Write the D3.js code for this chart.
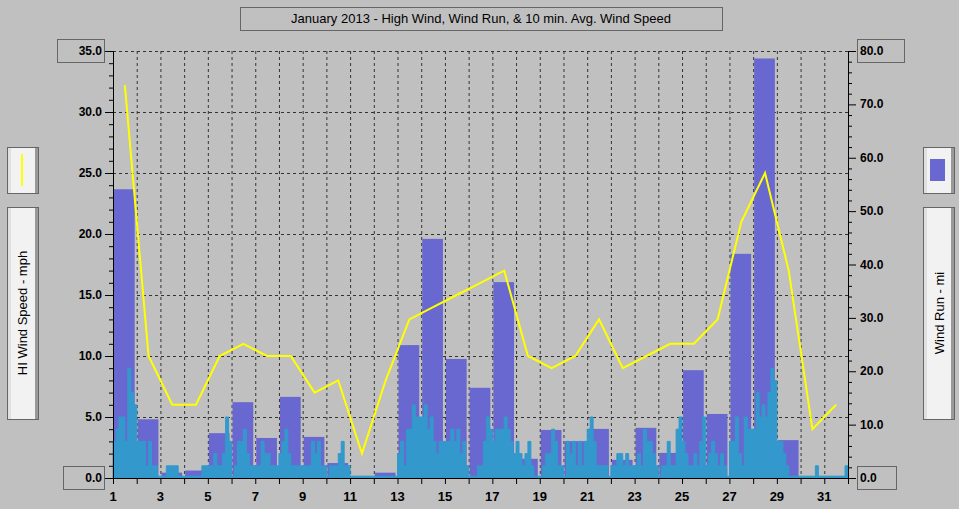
<!DOCTYPE html>
<html><head><meta charset="utf-8">
<script src="https://cdn.jsdelivr.net/npm/d3@7/dist/d3.min.js"></script>
<style>body{margin:0;background:#c0c0c0;}svg{display:block;font-family:"Liberation Sans",Arial,sans-serif;}</style>
</head><body><svg id="c" width="959" height="509"></svg>
<script>
const days = d3.range(1, 32);
const windRun = [54.1,11.0,1.0,1.4,8.4,14.2,7.5,15.2,7.7,2.8,0,1.0,24.9,44.8,22.3,16.9,36.7,3.6,9.0,6.9,9.2,3.4,9.4,4.7,20.2,12.0,42.0,78.6,7.1,0,0.3];
const hiWind = [32.2,10,6,6,10,11,10,10,7,8,2,8,13,14,15,16,17,10,9,10,13,9,10,11,11,13,21,25,17,4,6];
const avgWind = [
 [3,4,5,5,3,9,7,6],[3,3,3,1,3,1,1,0],[0,0,1,1,1,1,0,0],[0,0,0,0,0,0,1,1],
 [1,1,2,1,1,2,5,3],[0,1,3,3,4,2,1,1],[1,1,3,2,2,1,1,1],[2,3,4,2,1,1,1,1],
 [1,1,1,3,2,3,1,1],[0,1,1,1,2,3,1,1],[0,0,0,0,0,0,0,0],[0,0,0,0,0,0,0,0],
 [2,3,1,4,4,6,5,5],[5,6,4,5,3,2,3,3],[3,3,4,3,4,2,3,1],[0,0,0,1,1,3,5,4],
 [3,4,4,4,5,4,3,2],[3,2,1,2,3,1,0,0],[0,1,2,2,4,3,1,1],[0,3,2,3,1,3,1,3],
 [4,5,3,1,1,1,1,0],[1,1,2,2,1,2,1,1],[1,2,1,4,3,3,2,1],[0,1,1,3,1,1,4,5],
 [3,2,1,1,2,1,3,5],[1,2,3,2,1,2,1,0],[3,3,5,2,1,5,4,4],[4,7,5,6,5,7,9,8],
 [3,3,2,1,0,0,0,0],[0,0,0,0,0,1,0,0],[0,0,0,0,0,0,0,1]];
const leftTicks = [0,5,10,15,20,25,30,35];
const rightTicks = [0,10,20,30,40,50,60,70,80];
const title = "January 2013 - High Wind, Wind Run, & 10 min. Avg. Wind Speed";

const svg = d3.select("#c");
const L=113, R=848, T=51, B=478;
const x = d3.scaleLinear().domain([1,32]).range([L,R]);
const yL = d3.scaleLinear().domain([0,35]).range([B,T]);
const yR = d3.scaleLinear().domain([0,80]).range([B,T]);

function box(x0,y0,w,h,fill){svg.append("rect").attr("x",x0+.5).attr("y",y0+.5).attr("width",w).attr("height",h).attr("fill",fill||"none").attr("stroke","#666");}
// title
box(240,7,482,23);
svg.append("text").attr("x",481).attr("y",23).attr("text-anchor","middle").attr("font-size",13).text(title);

// grid
const g = svg.append("g").attr("stroke","#333").attr("stroke-dasharray","3,3");
d3.range(2,32).forEach(d=>g.append("line").attr("x1",x(d)+.5).attr("x2",x(d)+.5).attr("y1",T).attr("y2",B));
leftTicks.slice(1).forEach(v=>g.append("line").attr("x1",L).attr("x2",R).attr("y1",Math.round(yL(v))+.5).attr("y2",Math.round(yL(v))+.5));

// bars
svg.append("g").selectAll("rect").data(days).join("rect")
 .attr("x",d=>x(d)+1).attr("width",x(2)-x(1)-3)
 .attr("y",(d,i)=>yR(windRun[i])).attr("height",(d,i)=>B-yR(windRun[i]))
 .attr("fill","#6868d0");

// avg wind step area
const pts=[];
avgWind.forEach((arr,i)=>arr.forEach((v,j)=>pts.push({t:days[i]+j/8,v:v})));
pts.push({t:32,v:0});
svg.append("path").datum(pts).attr("fill","#3399cc").attr("stroke","#3399cc").attr("stroke-width",1)
 .attr("d",d3.area().curve(d3.curveStepAfter).x(p=>x(p.t)).y0(B).y1(p=>yL(Math.max(p.v,0.15))));

// hi wind line
svg.append("path").datum(hiWind).attr("fill","none").attr("stroke","#ffff00").attr("stroke-width",2)
 .attr("d",d3.line().x((v,i)=>x(days[i]+0.5)).y(v=>yL(v)));

// axes
const axL = svg.append("g").attr("transform",`translate(${L},0)`).call(d3.axisLeft(yL).tickValues(d3.range(0,36,1)).tickSize(4).tickFormat(""));
axL.selectAll("line").filter(d=>d%5===0).attr("x2",-8);
const axR = svg.append("g").attr("transform",`translate(${R},0)`).call(d3.axisRight(yR).tickValues(d3.range(0,81,2)).tickSize(4).tickFormat(""));
axR.selectAll("line").filter(d=>d%10===0).attr("x2",8);
const axB = svg.append("g").attr("transform",`translate(0,${B})`).call(d3.axisBottom(x).tickValues(d3.range(1,33)).tickSize(6).tickFormat(""));
[axL,axR,axB].forEach(a=>{a.selectAll("path,line").attr("stroke","#000");});

const lab = {"font-size":12,"font-weight":"bold"};
leftTicks.forEach(v=>{
  if(v===35||v===0) box(v===35?57:63,Math.round(yL(v))-12,v===35?47:41,23);
  svg.append("text").attr("x",102).attr("y",yL(v)+4).attr("text-anchor","end").attr("font-size",12).attr("font-weight","bold").text(v.toFixed(1));
});
rightTicks.forEach(v=>{
  if(v===80||v===0) box(857,Math.round(yR(v))-12,v===80?47:39,23);
  svg.append("text").attr("x",860).attr("y",yR(v)+4).attr("font-size",12).attr("font-weight","bold").text(v.toFixed(1));
});
d3.range(1,32,2).forEach(d=>svg.append("text").attr("x",x(d)).attr("y",501).attr("text-anchor","middle").attr("font-size",13).attr("font-weight","bold").text(d));

// legends
function panel(x0,y0,w,h){box(x0,y0,w,h,"#f2f2f2");svg.append("rect").attr("x",x0+w-3).attr("y",y0+1).attr("width",3).attr("height",h-1).attr("fill","#999");svg.append("rect").attr("x",x0+1).attr("y",y0+1).attr("width",3).attr("height",h-1).attr("fill","#e0e0e0");}
panel(7,147,31,46);
svg.append("line").attr("x1",22).attr("x2",22).attr("y1",154).attr("y2",186).attr("stroke","#ffff00").attr("stroke-width",2);
panel(7,207,31,212);
svg.append("text").attr("transform","translate(27,313) rotate(-90)").attr("text-anchor","middle").attr("font-size",13).text("HI Wind Speed - mph");
panel(923,147,31,46);
svg.append("rect").attr("x",930).attr("y",159).attr("width",15).attr("height",22).attr("fill","#6868d0");
panel(923,207,31,212);
svg.append("text").attr("transform","translate(944,313) rotate(-90)").attr("text-anchor","middle").attr("font-size",13).text("Wind Run - mi");
</script></body></html>
